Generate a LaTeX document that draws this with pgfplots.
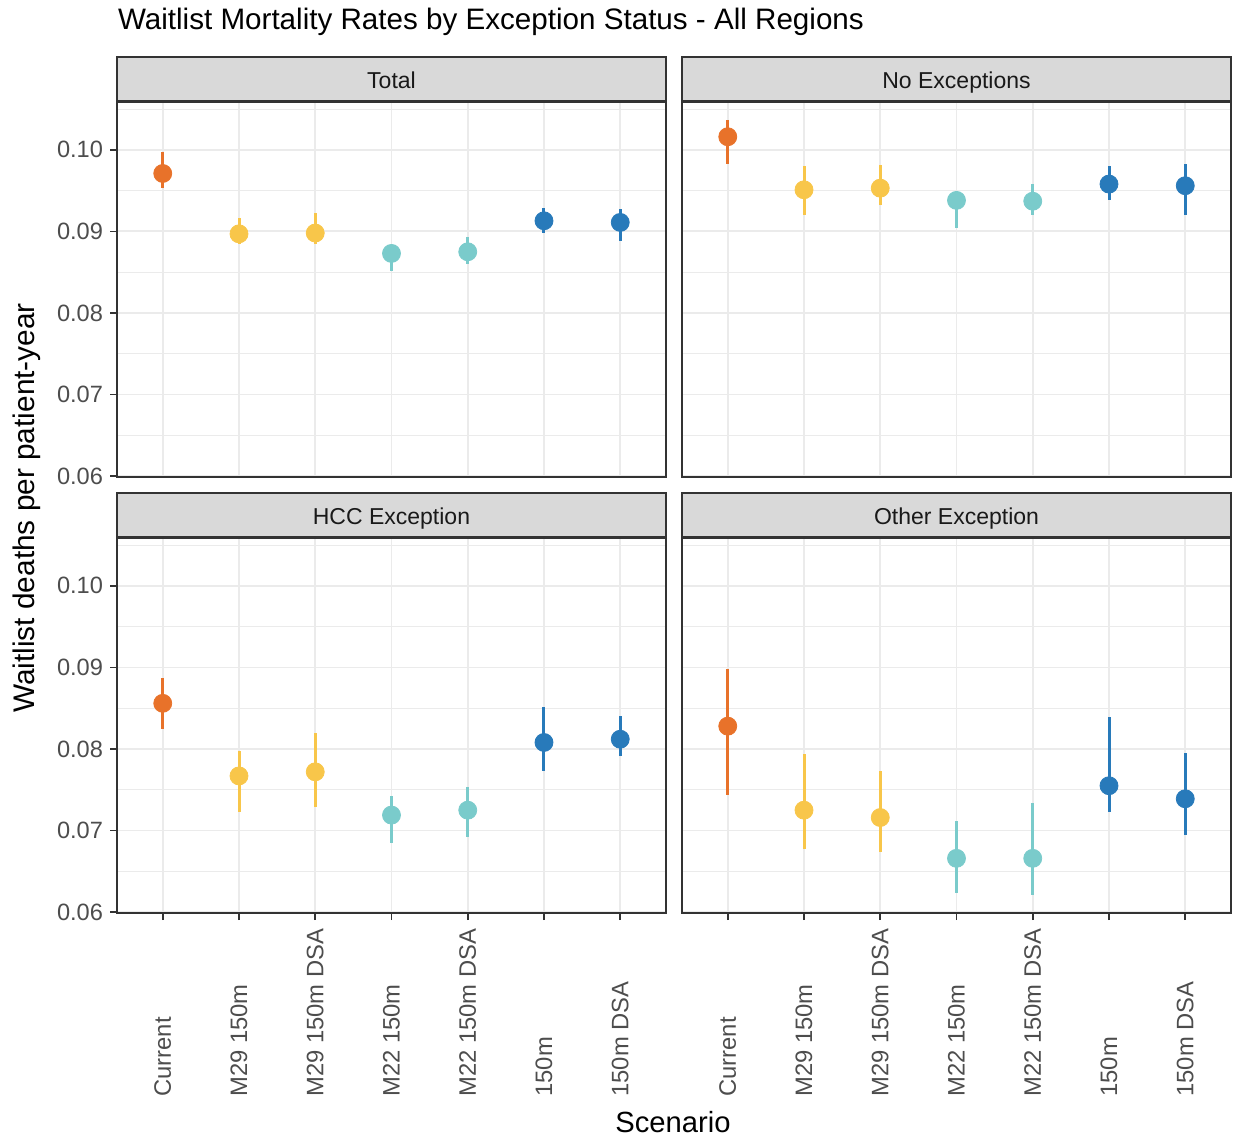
\documentclass[border=0pt]{standalone}
\usepackage{pgfplots}
\pgfplotsset{compat=1.18}
\usepackage{pgfplotstable}
\usepackage{fontspec}
\setmainfont{Liberation Sans}
\definecolor{cCur}{RGB}{232,114,42}
\definecolor{cM29}{RGB}{248,198,74}
\definecolor{cM22}{RGB}{122,203,203}
\definecolor{cB}{RGB}{40,122,186}
\definecolor{gridc}{RGB}{235,235,235}
\definecolor{framec}{RGB}{51,51,51}
\definecolor{stripc}{RGB}{217,217,217}
\definecolor{txtc}{RGB}{77,77,77}

\pgfplotstableread{
x y lo hi
0 0.0971 0.0953 0.0997
1 0.0897 0.0884 0.0917
2 0.0898 0.0885 0.0922
3 0.0873 0.0852 0.0883
4 0.0875 0.0860 0.0893
5 0.0913 0.0898 0.0929
6 0.0911 0.0888 0.0928
}\tTotal
\pgfplotstableread{
x y lo hi
0 0.1016 0.0983 0.1036
1 0.0951 0.0920 0.0980
2 0.0953 0.0932 0.0981
3 0.0938 0.0904 0.0950
4 0.0937 0.0920 0.0958
5 0.0958 0.0938 0.0980
6 0.0956 0.0920 0.0983
}\tNoExc
\pgfplotstableread{
x y lo hi
0 0.0856 0.0825 0.0887
1 0.0767 0.0723 0.0798
2 0.0772 0.0729 0.0819
3 0.0719 0.0685 0.0743
4 0.0725 0.0692 0.0754
5 0.0808 0.0773 0.0851
6 0.0812 0.0791 0.0840
}\tHCC
\pgfplotstableread{
x y lo hi
0 0.0828 0.0744 0.0898
1 0.0725 0.0678 0.0794
2 0.0716 0.0674 0.0773
3 0.0666 0.0624 0.0712
4 0.0666 0.0621 0.0734
5 0.0755 0.0723 0.0839
6 0.0739 0.0694 0.0795
}\tOther

\pgfplotsset{
  facet/.style={
    scale only axis, width=274.5pt, height=187.25pt,
    xmin=-0.6, xmax=6.6, ymin=0.0599, ymax=0.1058,
    xtick={0,...,6},
    ytick={0.06,0.07,0.08,0.09,0.10},
    minor ytick={0.065,0.075,0.085,0.095,0.105},
    grid=both,
    major grid style={gridc, line width=0.9pt},
    minor grid style={gridc, line width=0.5pt},
    axis line style={framec, line width=0.8pt},
    tick align=outside, major tick length=3.5pt, minor tick length=0pt,
    tick style={framec, line width=0.8pt},
    xtick pos=bottom, ytick pos=left,
    unbounded coords=discard,
    /pgf/number format/.cd, fixed, fixed zerofill, precision=2, assume math mode=true,
    /pgfplots/.cd,
    yticklabel style={font=\fontsize{11.8}{13}\selectfont, text=txtc},
  },
  notop/.style={xticklabels={}, xtick style={draw=none}},
  noleft/.style={yticklabels={}, ytick style={draw=none}},
  botlabels/.style={
    xticklabels={Current, M29 150m, M29 150m DSA, M22 150m, M22 150m DSA, 150m, 150m DSA},
    xticklabel style={rotate=90, anchor=west, inner sep=0pt, font=\fontsize{11.9}{13}\selectfont, text=txtc},
    xticklabel shift=88.5pt,
  },
  pr/.style={only marks, mark=*, mark size=4.5pt, color=#1, mark options={fill=#1, draw=#1},
    error bars/.cd, y dir=both, y explicit, error mark=none,
    error bar style={line width=1.5pt, color=#1}, /pgfplots/.cd},
}
\newcommand{\facetplots}[1]{%
  \addplot[pr=cCur, restrict x to domain=-0.5:0.5] table[x=x, y=y, y error plus expr=\thisrow{hi}-\thisrow{y}, y error minus expr=\thisrow{y}-\thisrow{lo}]{#1};
  \addplot[pr=cM29, restrict x to domain=0.5:2.5] table[x=x, y=y, y error plus expr=\thisrow{hi}-\thisrow{y}, y error minus expr=\thisrow{y}-\thisrow{lo}]{#1};
  \addplot[pr=cM22, restrict x to domain=2.5:4.5] table[x=x, y=y, y error plus expr=\thisrow{hi}-\thisrow{y}, y error minus expr=\thisrow{y}-\thisrow{lo}]{#1};
  \addplot[pr=cB, restrict x to domain=4.5:6.5] table[x=x, y=y, y error plus expr=\thisrow{hi}-\thisrow{y}, y error minus expr=\thisrow{y}-\thisrow{lo}]{#1};
}
\newcommand{\strip}[3]{%
  \draw[fill=stripc, draw=framec, line width=0.8pt] (#1,#2) rectangle ++(274.5pt,22pt);
  \node[anchor=base, inner sep=0pt, font=\fontsize{11.5}{13}\selectfont, text=black!90] at ([shift={(137.25pt,6.3pt)}]#1,#2) {#3};
}

\begin{document}
\begin{tikzpicture}
\useasboundingbox (0,0) rectangle (618pt,570pt);
\node[anchor=west, font=\fontsize{14.8}{17}\selectfont] at (55.5pt,559pt) {Waitlist Mortality Rates by Exception Status - All Regions};

\begin{axis}[facet, notop, at={(58.5pt,331.5pt)}, anchor=south west]
\facetplots{\tTotal}
\end{axis}
\begin{axis}[facet, notop, noleft, at={(341pt,331.5pt)}, anchor=south west]
\facetplots{\tNoExc}
\end{axis}
\begin{axis}[facet, botlabels, at={(58.5pt,113.5pt)}, anchor=south west]
\facetplots{\tHCC}
\end{axis}
\begin{axis}[facet, botlabels, noleft, at={(341pt,113.5pt)}, anchor=south west]
\facetplots{\tOther}
\end{axis}

\strip{58.5pt}{519.5pt}{Total}
\strip{341pt}{519.5pt}{No Exceptions}
\strip{58.5pt}{301.5pt}{HCC Exception}
\strip{341pt}{301.5pt}{Other Exception}

\node[rotate=90, font=\fontsize{14.9}{17}\selectfont] at (13.5pt,316pt) {Waitlist deaths per patient-year};
\node[font=\fontsize{14.6}{17}\selectfont] at (336.5pt,9pt) {Scenario};
\end{tikzpicture}
\end{document}
